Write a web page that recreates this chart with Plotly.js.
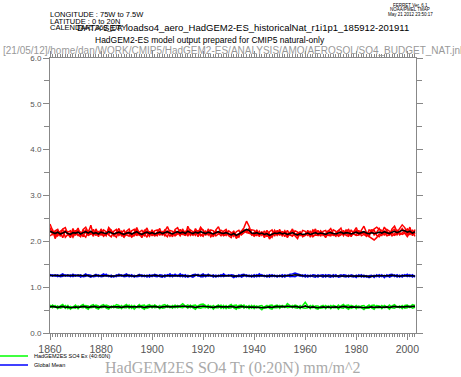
<!DOCTYPE html>
<html>
<head>
<meta charset="utf-8">
<script src="https://cdn.plot.ly/plotly-3.0.1.min.js"></script>
<style>html,body{margin:0;padding:0;background:#fff;}#chart{width:461px;height:377px;}</style>
</head>
<body>
<div id="chart"></div>
<script>
var years = [1860,1861,1862,1863,1864,1865,1866,1867,1868,1869,1870,1871,1872,1873,1874,1875,1876,1877,1878,1879,
1880,1881,1882,1883,1884,1885,1886,1887,1888,1889,1890,1891,1892,1893,1894,1895,1896,1897,1898,1899,
1900,1901,1902,1903,1904,1905,1906,1907,1908,1909,1910,1911,1912,1913,1914,1915,1916,1917,1918,1919,
1920,1921,1922,1923,1924,1925,1926,1927,1928,1929,1930,1931,1932,1933,1934,1935,1936,1937,1938,1939,
1940,1941,1942,1943,1944,1945,1946,1947,1948,1949,1950,1951,1952,1953,1954,1955,1956,1957,1958,1959,
1960,1961,1962,1963,1964,1965,1966,1967,1968,1969,1970,1971,1972,1973,1974,1975,1976,1977,1978,1979,
1980,1981,1982,1983,1984,1985,1986,1987,1988,1989,1990,1991,1992,1993,1994,1995,1996,1997,1998,1999,
2000,2001,2002,2003];

// Tropical (0:20N) ensemble members, red
var red1 = [2.38,2.22,2.10,2.25,2.14,2.27,2.30,2.16,2.08,2.24, 2.20,2.29,2.12,2.26,2.31,2.19,2.35,2.14,2.22,2.10,
2.27,2.18,2.12,2.30,2.24,2.11,2.20,2.28,2.15,2.09, 2.22,2.27,2.13,2.19,2.30,2.16,2.08,2.21,2.29,2.14,
2.25,2.11,2.20,2.28,2.13,2.24,2.32,2.19,2.10,2.26, 2.30,2.17,2.27,2.12,2.33,2.21,2.14,2.28,2.18,2.31,
2.24,2.13,2.27,2.19,2.10,2.25,2.32,2.17,2.14,2.23, 2.12,2.08,2.20,2.06,2.15,2.24,2.30,2.44,2.33,2.17,
2.14,2.25,2.10,2.21,2.08,2.19,2.05,2.13,2.24,2.16, 2.26,2.11,2.22,2.08,2.18,2.27,2.12,2.06,2.20,2.10,
2.13,2.24,2.09,2.19,2.27,2.12,2.23,2.17,2.08,2.22, 2.28,2.16,2.11,2.23,2.29,2.14,2.25,2.20,2.10,2.21,
2.30,2.15,2.24,2.33,2.19,2.10,2.26,2.14,2.20,2.28, 2.17,2.31,2.22,2.13,2.27,2.33,2.20,2.29,2.36,2.30,
2.18,2.31,2.12,2.26];
var red2 = [2.30,2.15,2.21,2.12,2.19,2.08,2.24,2.20,2.23,2.13, 2.24,2.12,2.20,2.15,2.09,2.23,2.17,2.26,2.13,2.21,
2.13,2.25,2.21,2.14,2.10,2.22,2.26,2.13,2.19,2.24, 2.14,2.11,2.23,2.26,2.12,2.20,2.24,2.15,2.09,2.22,
2.12,2.23,2.25,2.13,2.21,2.15,2.10,2.24,2.22,2.12, 2.16,2.26,2.14,2.23,2.11,2.25,2.21,2.13,2.24,2.15,
2.11,2.22,2.14,2.25,2.23,2.12,2.16,2.24,2.21,2.13, 2.23,2.19,2.11,2.21,2.24,2.14,2.18,2.23,2.19,2.25,
2.24,2.12,2.22,2.13,2.23,2.10,2.21,2.25,2.11,2.24, 2.13,2.22,2.10,2.24,2.14,2.11,2.23,2.20,2.12,2.24,
2.22,2.12,2.23,2.10,2.15,2.24,2.11,2.22,2.24,2.13, 2.12,2.25,2.22,2.11,2.14,2.24,2.13,2.11,2.25,2.16,
2.14,2.24,2.12,2.15,2.11,2.25,2.23,2.28,2.31,2.26, 2.24,2.13,2.26,2.22,2.12,2.16,2.25,2.14,2.18,2.24,
2.27,2.14,2.25,2.15];
var red3 = [2.20,2.25,2.06,2.18,2.22,2.26,2.09,2.15,2.12,2.28, 2.13,2.24,2.19,2.10,2.26,2.14,2.20,2.11,2.27,2.16,
2.25,2.12,2.16,2.27,2.20,2.14,2.09,2.23,2.12,2.17, 2.21,2.16,2.09,2.14,2.25,2.19,2.13,2.24,2.18,2.11,
2.23,2.18,2.12,2.22,2.16,2.25,2.20,2.11,2.18,2.23, 2.19,2.12,2.24,2.18,2.25,2.13,2.19,2.23,2.10,2.26,
2.25,2.16,2.21,2.10,2.17,2.23,2.18,2.12,2.22,2.26, 2.14,2.17,2.22,2.12,2.09,2.23,2.25,2.20,2.28,2.14,
2.19,2.23,2.14,2.20,2.12,2.24,2.16,2.09,2.21,2.13, 2.22,2.15,2.23,2.12,2.20,2.24,2.14,2.17,2.21,2.11,
2.15,2.20,2.12,2.25,2.21,2.14,2.22,2.13,2.17,2.23, 2.21,2.13,2.18,2.24,2.21,2.12,2.22,2.26,2.14,2.19,
2.24,2.16,2.22,2.18,2.14,2.09,2.05,2.03,2.08,2.16, 2.13,2.22,2.16,2.20,2.23,2.26,2.14,2.22,2.28,2.19,
2.15,2.23,2.20,2.11];
var red4 = [2.12,2.16,2.23,2.26,2.11,2.19,2.22,2.15,2.18,2.09, 2.19,2.15,2.10,2.24,2.18,2.13,2.16,2.20,2.14,2.19,
2.18,2.11,2.19,2.15,2.24,2.15,2.17,2.16,2.22,2.10, 2.15,2.21,2.15,2.12,2.18,2.13,2.17,2.12,2.23,2.19,
2.16,2.13,2.15,2.19,2.20,2.12,2.22,2.17,2.15,2.14, 2.20,2.15,2.16,2.13,2.19,2.17,2.14,2.16,2.20,2.12,
2.17,2.16,2.19,2.16,2.13,2.18,2.20,2.19,2.12,2.15, 2.15,2.12,2.16,2.14,2.16,2.15,2.24,2.19,2.17,2.16,
2.11,2.16,2.17,2.18,2.16,2.15,2.09,2.17,2.16,2.15, 2.15,2.17,2.18,2.16,2.14,2.13,2.15,2.12,2.15,2.14,
2.14,2.16,2.15,2.13,2.14,2.13,2.16,2.15,2.11,2.14, 2.15,2.14,2.13,2.14,2.17,2.18,2.16,2.15,2.14,2.16,
2.13,2.14,2.17,2.18,2.16,2.19,2.21,2.24,2.13,2.10, 2.18,2.19,2.12,2.14,2.18,2.13,2.17,2.19,2.15,2.18,
2.10,2.19,2.16,2.22];
var redMean = [2.22,2.19,2.17,2.20,2.16,2.18,2.21,2.17,2.15,2.19, 2.18,2.20,2.16,2.19,2.21,2.18,2.22,2.17,2.19,2.16,
2.20,2.18,2.17,2.21,2.19,2.16,2.18,2.20,2.17,2.15, 2.18,2.19,2.16,2.18,2.21,2.17,2.15,2.18,2.20,2.17,
2.19,2.16,2.18,2.20,2.17,2.19,2.21,2.18,2.16,2.19, 2.21,2.18,2.20,2.17,2.22,2.19,2.17,2.20,2.18,2.21,
2.19,2.17,2.20,2.18,2.16,2.19,2.21,2.18,2.17,2.19, 2.16,2.14,2.17,2.13,2.16,2.19,2.22,2.26,2.24,2.18,
2.17,2.19,2.16,2.18,2.15,2.17,2.13,2.16,2.18,2.17, 2.19,2.16,2.18,2.15,2.17,2.19,2.16,2.14,2.17,2.15,
2.16,2.18,2.15,2.17,2.19,2.16,2.18,2.17,2.15,2.18, 2.19,2.17,2.16,2.18,2.20,2.17,2.19,2.18,2.16,2.18,
2.20,2.17,2.19,2.21,2.18,2.16,2.19,2.17,2.18,2.20, 2.18,2.21,2.19,2.17,2.20,2.22,2.19,2.21,2.24,2.23,
2.20,2.22,2.18,2.21];

// Global mean, blue
var blue1 = [1.28,1.24,1.27,1.23,1.26,1.29,1.24,1.27,1.23,1.28, 1.24,1.27,1.22,1.26,1.29,1.24,1.22,1.25,1.28,1.23,
1.27,1.29,1.24,1.26,1.22,1.25,1.23,1.28,1.24,1.27, 1.29,1.23,1.27,1.22,1.26,1.28,1.23,1.26,1.22,1.27,
1.23,1.28,1.26,1.23,1.22,1.27,1.24,1.29,1.23,1.28, 1.24,1.29,1.23,1.27,1.22,1.25,1.27,1.28,1.24,1.26,
1.29,1.23,1.28,1.24,1.27,1.22,1.26,1.23,1.29,1.24, 1.27,1.24,1.21,1.25,1.23,1.27,1.28,1.23,1.26,1.22,
1.27,1.23,1.29,1.24,1.26,1.22,1.27,1.23,1.26,1.22, 1.26,1.22,1.27,1.24,1.28,1.29,1.31,1.29,1.27,1.23,
1.27,1.22,1.26,1.23,1.22,1.27,1.24,1.22,1.27,1.23, 1.22,1.27,1.23,1.25,1.27,1.23,1.22,1.26,1.23,1.22,
1.26,1.23,1.27,1.22,1.25,1.21,1.23,1.26,1.23,1.27, 1.23,1.26,1.23,1.27,1.28,1.23,1.27,1.22,1.27,1.24,
1.28,1.23,1.27,1.22];
var blue2 = [1.24,1.27,1.24,1.27,1.23,1.24,1.27,1.24,1.27,1.23, 1.27,1.24,1.27,1.23,1.24,1.27,1.26,1.23,1.24,1.27,
1.23,1.24,1.28,1.23,1.26,1.22,1.27,1.24,1.27,1.23, 1.24,1.27,1.23,1.26,1.23,1.24,1.27,1.23,1.26,1.22,
1.27,1.24,1.23,1.27,1.26,1.22,1.27,1.23,1.27,1.24, 1.26,1.23,1.27,1.22,1.26,1.24,1.22,1.25,1.28,1.23,
1.23,1.27,1.24,1.26,1.22,1.26,1.23,1.27,1.23,1.26, 1.24,1.27,1.26,1.22,1.27,1.22,1.24,1.27,1.23,1.26,
1.22,1.27,1.23,1.27,1.23,1.26,1.22,1.27,1.23,1.26, 1.23,1.27,1.22,1.26,1.23,1.24,1.23,1.26,1.24,1.27,
1.22,1.26,1.23,1.27,1.26,1.22,1.26,1.27,1.22,1.27, 1.26,1.22,1.27,1.22,1.23,1.27,1.26,1.22,1.27,1.25,
1.21,1.27,1.22,1.26,1.22,1.25,1.26,1.21,1.27,1.22, 1.27,1.21,1.27,1.22,1.24,1.27,1.22,1.26,1.22,1.27,
1.23,1.27,1.22,1.26];
var blueMean = [1.26,1.25,1.26,1.25,1.25,1.26,1.25,1.26,1.25,1.26, 1.25,1.26,1.25,1.25,1.26,1.25,1.24,1.25,1.26,1.25,
1.25,1.26,1.26,1.25,1.24,1.24,1.25,1.26,1.25,1.25, 1.26,1.25,1.25,1.24,1.25,1.26,1.25,1.25,1.24,1.25,
1.25,1.26,1.25,1.25,1.24,1.25,1.25,1.26,1.25,1.26, 1.25,1.26,1.25,1.25,1.24,1.25,1.25,1.26,1.26,1.25,
1.26,1.25,1.26,1.25,1.25,1.24,1.25,1.25,1.26,1.25, 1.26,1.25,1.24,1.24,1.25,1.25,1.26,1.25,1.25,1.24,
1.25,1.25,1.26,1.25,1.25,1.24,1.25,1.25,1.25,1.24, 1.25,1.24,1.25,1.25,1.26,1.26,1.27,1.27,1.26,1.25,
1.25,1.24,1.25,1.25,1.24,1.25,1.25,1.24,1.25,1.25, 1.24,1.25,1.25,1.24,1.25,1.25,1.24,1.24,1.25,1.24,
1.24,1.25,1.25,1.24,1.24,1.23,1.24,1.24,1.25,1.25, 1.25,1.24,1.25,1.25,1.26,1.25,1.25,1.24,1.25,1.25,
1.26,1.25,1.25,1.24];

// Extratropical (40:60N), green
var green1 = [0.61,0.55,0.60,0.53,0.59,0.62,0.54,0.60,0.52,0.57, 0.61,0.53,0.59,0.62,0.55,0.52,0.60,0.62,0.54,0.52,
0.60,0.62,0.54,0.52,0.59,0.55,0.62,0.60,0.53,0.59, 0.62,0.54,0.60,0.52,0.58,0.62,0.55,0.52,0.60,0.62,
0.55,0.61,0.58,0.53,0.60,0.62,0.56,0.59,0.54,0.61, 0.55,0.60,0.64,0.59,0.54,0.61,0.55,0.52,0.59,0.62,
0.63,0.60,0.54,0.59,0.52,0.58,0.61,0.54,0.60,0.53, 0.59,0.62,0.55,0.52,0.60,0.61,0.54,0.59,0.53,0.60,
0.53,0.59,0.54,0.51,0.57,0.60,0.54,0.52,0.59,0.61, 0.54,0.60,0.56,0.64,0.60,0.55,0.61,0.59,0.53,0.60,
0.67,0.59,0.53,0.60,0.54,0.52,0.58,0.60,0.53,0.59, 0.53,0.60,0.58,0.52,0.59,0.62,0.55,0.52,0.60,0.58,
0.53,0.59,0.54,0.51,0.57,0.61,0.55,0.52,0.60,0.59, 0.53,0.60,0.57,0.52,0.59,0.62,0.56,0.59,0.53,0.60,
0.61,0.56,0.62,0.60];
var green2 = [0.55,0.61,0.56,0.59,0.54,0.56,0.60,0.53,0.58,0.55, 0.54,0.59,0.56,0.55,0.60,0.59,0.55,0.56,0.61,0.59,
0.55,0.56,0.61,0.59,0.55,0.60,0.55,0.54,0.60,0.55, 0.55,0.61,0.54,0.60,0.56,0.55,0.60,0.61,0.54,0.56,
0.60,0.55,0.56,0.60,0.54,0.55,0.61,0.55,0.60,0.55, 0.60,0.56,0.55,0.58,0.61,0.55,0.60,0.61,0.55,0.54,
0.56,0.55,0.61,0.55,0.60,0.55,0.55,0.61,0.54,0.60, 0.54,0.55,0.60,0.61,0.54,0.56,0.61,0.55,0.60,0.54,
0.60,0.55,0.59,0.60,0.54,0.55,0.60,0.61,0.55,0.55, 0.60,0.56,0.59,0.55,0.56,0.60,0.55,0.54,0.60,0.55,
0.54,0.55,0.60,0.55,0.59,0.59,0.54,0.55,0.60,0.55, 0.60,0.55,0.55,0.61,0.55,0.54,0.60,0.61,0.54,0.56,
0.60,0.55,0.59,0.60,0.54,0.54,0.60,0.61,0.55,0.55, 0.60,0.55,0.56,0.61,0.55,0.54,0.58,0.55,0.60,0.54,
0.55,0.59,0.54,0.56];
var greenMean = [0.57,0.58,0.57,0.56,0.57,0.58,0.56,0.57,0.55,0.56, 0.57,0.56,0.57,0.58,0.57,0.56,0.57,0.58,0.57,0.56,
0.57,0.58,0.57,0.56,0.57,0.57,0.58,0.57,0.56,0.57, 0.58,0.57,0.57,0.56,0.57,0.58,0.57,0.56,0.57,0.58,
0.57,0.58,0.57,0.56,0.57,0.58,0.58,0.57,0.57,0.58, 0.57,0.58,0.59,0.58,0.57,0.58,0.57,0.56,0.57,0.58,
0.59,0.58,0.57,0.57,0.56,0.57,0.58,0.57,0.57,0.56, 0.57,0.58,0.57,0.56,0.57,0.58,0.57,0.57,0.56,0.57,
0.56,0.57,0.56,0.55,0.56,0.57,0.57,0.56,0.57,0.58, 0.57,0.58,0.57,0.59,0.58,0.57,0.58,0.57,0.56,0.57,
0.59,0.57,0.56,0.57,0.56,0.55,0.56,0.57,0.56,0.57, 0.56,0.57,0.57,0.56,0.57,0.58,0.57,0.56,0.57,0.57,
0.56,0.57,0.56,0.55,0.56,0.57,0.57,0.56,0.57,0.57, 0.56,0.57,0.57,0.56,0.57,0.58,0.57,0.57,0.56,0.57,
0.58,0.57,0.58,0.58];

var legendLabels = ["HadGEM2ES SO4 Ex (40:60N)", "Global Mean"];
var xTitle = "HadGEM2ES SO4 Tr (0:20N) mm/m^2";
var headerLines = ["LONGITUDE : 75W to 7.5W", "LATITUDE : 0 to 20N", "CALENDAR: 360_DAY"];
var datasetLine = "DATA SET: loadso4_aero_HadGEM2-ES_historicalNat_r1i1p1_185912-201911";
var subtitle = "HadGEM2-ES model output prepared for CMIP5 natural-only";
var pathLine = "[21/05/12]/home/dan/WORK/CMIP5/HadGEM2-ES/ANALYSIS/AMO/AEROSOL/SO4_BUDGET_NAT.jnl";
var stampLines = ["FERRET Ver. 6.1", "NOAA/PMEL TMAP", "May 21 2012 23:50:17"];

var W = 461, H = 377, L = 50, R = 45, T = 58, B = 44;
var PW = W - L - R, PH = H - T - B;
function px(x) { return (x - L) / PW; }
function py(y) { return (H - B - y) / PH; }

function tr(y, color, width) {
  return {x: years, y: y, type: 'scatter', mode: 'lines', hoverinfo: 'skip',
          line: {color: color, width: width}, showlegend: false};
}
var data = [
  tr(red1, '#ff0000', 1.5), tr(red2, '#ff0000', 1.5), tr(red3, '#ff0000', 1.5), tr(red4, '#ff0000', 1.5),
  tr(redMean, '#000000', 1.6),
  tr(blue1, '#0000ff', 1.5), tr(blue2, '#0000ff', 1.5), tr(blueMean, '#000000', 1.6),
  tr(green1, '#00ff00', 1.5), tr(green2, '#00ff00', 1.5), tr(greenMean, '#000000', 1.6)
];

var sans = 'Liberation Sans, Arial, sans-serif';
function ann(text, x, y, size, color, anchor, family) {
  return {text: text, xref: 'paper', yref: 'paper', x: px(x), y: py(y), showarrow: false,
          xanchor: anchor || 'left', yanchor: 'middle', borderpad: 0,
          font: {size: size, color: color || '#000', family: family || sans}};
}
var annotations = [
  ann(headerLines[0], 49, 14, 7.5, '#000'),
  ann(headerLines[1], 49, 21, 7.5, '#000'),
  ann(headerLines[2], 49, 27.5, 7.5, '#000'),
  ann(datasetLine, 76, 27.5, 9.5, '#000'),
  ann(subtitle, 210, 40, 8.5, '#000', 'center'),
  ann(pathLine, 232, 50, 10, '#999', 'center'),
  ann(stampLines[0], 410, 5, 4.5, '#000', 'center'),
  ann(stampLines[1], 410, 9.5, 4.5, '#000', 'center'),
  ann(stampLines[2], 410, 14, 4.5, '#000', 'center'),
  ann(legendLabels[0], 33, 356, 5.5, '#000'),
  ann(legendLabels[1], 33, 365, 5.5, '#000'),
  ann(xTitle, 233, 367.5, 16, '#aaa', 'center', 'Liberation Serif, Times New Roman, serif')
];
var shapes = [
  {type: 'line', xref: 'paper', yref: 'paper', x0: px(0), x1: px(28), y0: py(356), y1: py(356),
   line: {color: '#00ff00', width: 1.5}},
  {type: 'line', xref: 'paper', yref: 'paper', x0: px(0), x1: px(28), y0: py(365), y1: py(365),
   line: {color: '#0000ff', width: 1.5}}
];

var layout = {
  width: W, height: H,
  margin: {l: L, r: R, t: T, b: B, pad: 0},
  paper_bgcolor: '#fff', plot_bgcolor: '#fff',
  showlegend: false,
  xaxis: {
    range: [1860, 2003.4], tick0: 1860, dtick: 20, ticks: 'outside', ticklen: 6, tickwidth: 1,
    tickcolor: '#888', showline: true, linecolor: '#888', linewidth: 1, mirror: 'allticks',
    showgrid: false, zeroline: false, tickfont: {size: 10.5, color: '#555', family: sans},
    minor: {dtick: 1, tick0: 1860, ticks: 'outside', ticklen: 3, tickcolor: '#888', showgrid: false}
  },
  yaxis: {
    range: [0, 6], tick0: 0, dtick: 1, tickformat: '.1f', ticks: 'outside', ticklen: 6, tickwidth: 1,
    tickcolor: '#888', showline: true, linecolor: '#888', linewidth: 1, mirror: 'allticks',
    showgrid: false, zeroline: false, tickfont: {size: 8, color: '#555', family: sans},
    minor: {dtick: 0.5, tick0: 0, ticks: 'outside', ticklen: 5, tickcolor: '#888', showgrid: false}
  },
  annotations: annotations,
  shapes: shapes
};

Plotly.newPlot('chart', data, layout, {staticPlot: true, displayModeBar: false});
</script>
</body>
</html>
